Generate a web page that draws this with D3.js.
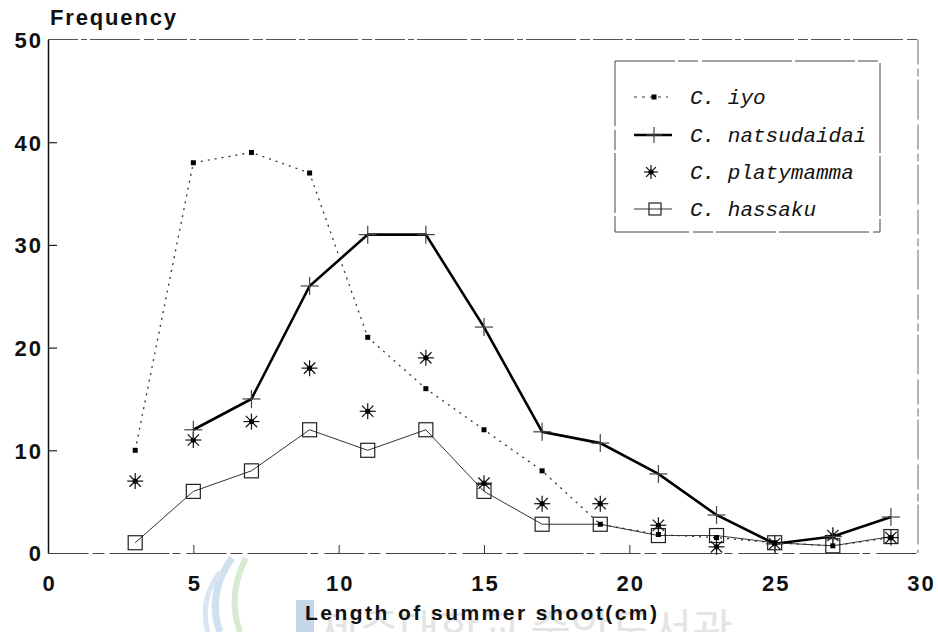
<!DOCTYPE html>
<html><head><meta charset="utf-8">
<script src="https://cdn.jsdelivr.net/npm/d3@7"></script>
<style>html,body{margin:0;padding:0;background:#fff;} svg{display:block;}</style>
</head><body>
<svg id="chart" width="938" height="632"></svg>
<script>
// ---- data ----
const xValues = [3, 5, 7, 9, 11, 13, 15, 17, 19, 21, 23, 25, 27, 29];
const iyo         = [10, 38, 39, 37, 21, 16, 12, 8, 2.8, 1.8, 1.5, 1, 0.7, 1.5];
const natsudaidai = [null, 12, 15, 26, 31, 31, 22, 11.8, 10.7, 7.7, 3.7, 0.9, 1.6, 3.5];
const platymamma  = [7, 11, 12.8, 18, 13.8, 19, 6.8, 4.8, 4.8, 2.7, 0.6, 0.9, 1.7, 1.5];
const hassaku     = [1, 6, 8, 12, 10, 12, 6, 2.8, 2.8, 1.7, 1.7, 1, 0.7, 1.6];
const seriesNames = ["C. iyo", "C. natsudaidai", "C. platymamma", "C. hassaku"];
const xTicks = [0, 5, 10, 15, 20, 25, 30];
const yTicks = [0, 10, 20, 30, 40, 50];
const yTitle = "Frequency";
const xTitle = "Length of summer shoot(cm)";
const watermark = "제주대학교 중앙도서관";

const svg = d3.select("#chart");
const x = d3.scaleLinear().domain([0, 30]).range([48, 920]);
const y = d3.scaleLinear().domain([0, 50]).range([553, 39.5]);

// ---- watermark (behind) ----
const wm = svg.append("g");
wm.append("path").attr("d", "M232,558 C213,585 212,610 220,632").attr("fill","none").attr("stroke","#cfe0f0").attr("stroke-width",7);
wm.append("path").attr("d", "M246,558 C232,585 232,610 240,632").attr("fill","none").attr("stroke","#d6ebcf").attr("stroke-width",6);
wm.append("path").attr("d", "M220,572 C203,595 203,615 208,632").attr("fill","none").attr("stroke","#d9e6f2").attr("stroke-width",5);
wm.append("rect").attr("x", 296).attr("y", 600).attr("width", 18).attr("height", 32).attr("fill", "#c5d6ea");
wm.append("text").attr("x", 318).attr("y", 646).attr("font-family", "Noto Sans CJK KR").attr("font-size", 44)
  .attr("fill", "#e4e4e4").text(watermark);

// ---- frame ----
const x0 = x(0), x1 = x(30), y0 = y(0), y1 = y(50);
svg.append("line").attr("x1", x0).attr("x2", x1).attr("y1", y1).attr("y2", y1)
  .attr("stroke", "#555").attr("stroke-width", 1.2).attr("stroke-dasharray", "30,3,6,3,50,4,10,3");
svg.append("line").attr("x1", x1 - 2).attr("x2", x1 - 2).attr("y1", y1).attr("y2", y0)
  .attr("stroke", "#666").attr("stroke-width", 1).attr("stroke-dasharray", "25,4,8,3,40,5");

// ---- axes ----
const yAxis = d3.axisLeft(y).tickValues(yTicks).tickSizeInner(-9).tickSizeOuter(0).tickPadding(5).tickFormat(d3.format("d"));
const gy = svg.append("g").attr("transform", `translate(${x0},0)`).call(yAxis);
gy.select(".domain").attr("stroke", "#111").attr("stroke-width", 1.5);
gy.selectAll(".tick line").attr("stroke", "#222").attr("stroke-width", 1.2)
  .filter(d => d === 0 || d === 50).remove();
gy.selectAll(".tick text").attr("font-family", "Liberation Sans, Arial, sans-serif").attr("font-size", 22)
  .attr("font-weight", "bold").attr("fill", "#111").attr("letter-spacing", "2px").attr("dy", "0.36em");

const xAxis = d3.axisBottom(x).tickValues(xTicks).tickSizeInner(-8).tickSizeOuter(0).tickPadding(22).tickFormat(d3.format("d"));
const gx = svg.append("g").attr("transform", `translate(0,${y0})`).call(xAxis);
gx.select(".domain").attr("stroke", "#444").attr("stroke-width", 1.2).attr("stroke-dasharray", "40,4,12,5,60,3,8,6");
gx.selectAll(".tick line").attr("stroke", "#333").attr("stroke-width", 1)
  .filter(d => d === 0 || d === 30).remove();
gx.selectAll(".tick text").attr("font-family", "Liberation Sans, Arial, sans-serif").attr("font-size", 22)
  .attr("font-weight", "bold").attr("fill", "#111").attr("letter-spacing", "2px").attr("dx", "1px");

// titles
svg.append("text").attr("x", 50).attr("y", 25).attr("font-family", "Liberation Sans, Arial, sans-serif")
  .attr("font-size", 22).attr("font-weight", "bold").attr("fill", "#111")
  .attr("textLength", 126).attr("lengthAdjust", "spacing").text(yTitle);
svg.append("text").attr("x", 305).attr("y", 620).attr("font-family", "Liberation Sans, Arial, sans-serif")
  .attr("font-size", 21).attr("font-weight", "bold").attr("fill", "#111")
  .attr("textLength", 352).attr("lengthAdjust", "spacing").text(xTitle);

// ---- marker helpers ----
function plus(g, cx, cy, r) {
  g.append("line").attr("x1", cx - r).attr("x2", cx + r).attr("y1", cy).attr("y2", cy).attr("stroke", "#444").attr("stroke-width", 1.2);
  g.append("line").attr("x1", cx).attr("x2", cx).attr("y1", cy - r).attr("y2", cy + r).attr("stroke", "#444").attr("stroke-width", 1.2);
}
function star(g, cx, cy, r) {
  [0, 45, 90, 135].forEach(a => {
    const rad = a * Math.PI / 180, dx = Math.cos(rad) * r, dy = Math.sin(rad) * r;
    g.append("line").attr("x1", cx - dx).attr("x2", cx + dx).attr("y1", cy - dy).attr("y2", cy + dy)
      .attr("stroke", "#111").attr("stroke-width", 1.2);
  });
  g.append("circle").attr("cx", cx).attr("cy", cy).attr("r", 2.6).attr("fill", "#000");
}
function openSq(g, cx, cy, s) {
  g.append("rect").attr("x", cx - s / 2).attr("y", cy - s / 2).attr("width", s).attr("height", s)
    .attr("fill", "none").attr("stroke", "#222").attr("stroke-width", 1.2);
}
function dot(g, cx, cy, s) {
  g.append("rect").attr("x", cx - s / 2).attr("y", cy - s / 2).attr("width", s).attr("height", s).attr("fill", "#000");
}

const pts = arr => xValues.map((xv, i) => ({ x: xv, y: arr[i] })).filter(d => d.y !== null);
const line = d3.line().x(d => x(d.x)).y(d => y(d.y));

// ---- lines ----
svg.append("path").datum(pts(hassaku)).attr("d", line).attr("fill", "none").attr("stroke", "#333").attr("stroke-width", 1);
svg.append("path").datum(pts(iyo)).attr("d", line).attr("fill", "none").attr("stroke", "#333").attr("stroke-width", 1.3).attr("stroke-dasharray", "2,5");
svg.append("path").datum(pts(natsudaidai)).attr("d", line).attr("fill", "none").attr("stroke", "#000").attr("stroke-width", 2.6);

// ---- markers ----
const gm = svg.append("g");
pts(hassaku).forEach(d => openSq(gm, x(d.x), y(d.y), 14));
pts(platymamma).forEach(d => star(gm, x(d.x), y(d.y), 8));
pts(natsudaidai).forEach(d => plus(gm, x(d.x), y(d.y), 9));
pts(iyo).forEach(d => dot(gm, x(d.x), y(d.y), 5));

// ---- legend ----
const lg = svg.append("g");
lg.append("rect").attr("x", 615).attr("y", 61).attr("width", 265).attr("height", 171)
  .attr("fill", "#fff").attr("stroke", "#444").attr("stroke-width", 1).attr("stroke-dasharray", "60,3,20,4,90,3");
const rows = [97, 135, 172, 209];
// iyo
lg.append("line").attr("x1", 634).attr("x2", 668).attr("y1", rows[0]).attr("y2", rows[0]).attr("stroke", "#333").attr("stroke-width", 1.2).attr("stroke-dasharray", "3,5");
dot(lg, 654, rows[0], 5);
// natsudaidai
lg.append("line").attr("x1", 634).attr("x2", 672).attr("y1", rows[1]).attr("y2", rows[1]).attr("stroke", "#000").attr("stroke-width", 2.4);
plus(lg, 654, rows[1], 8);
// platymamma
star(lg, 651, rows[2], 7);
// hassaku
lg.append("line").attr("x1", 634).attr("x2", 672).attr("y1", rows[3]).attr("y2", rows[3]).attr("stroke", "#333").attr("stroke-width", 1);
openSq(lg, 655, rows[3], 12);
seriesNames.forEach((n, i) => {
  lg.append("text").attr("x", 690).attr("y", rows[i] + 7).attr("font-family", "Liberation Mono, DejaVu Sans Mono, monospace")
    .attr("font-size", 21).attr("font-style", "italic").attr("fill", "#111").text(n);
});
</script>
</body></html>
